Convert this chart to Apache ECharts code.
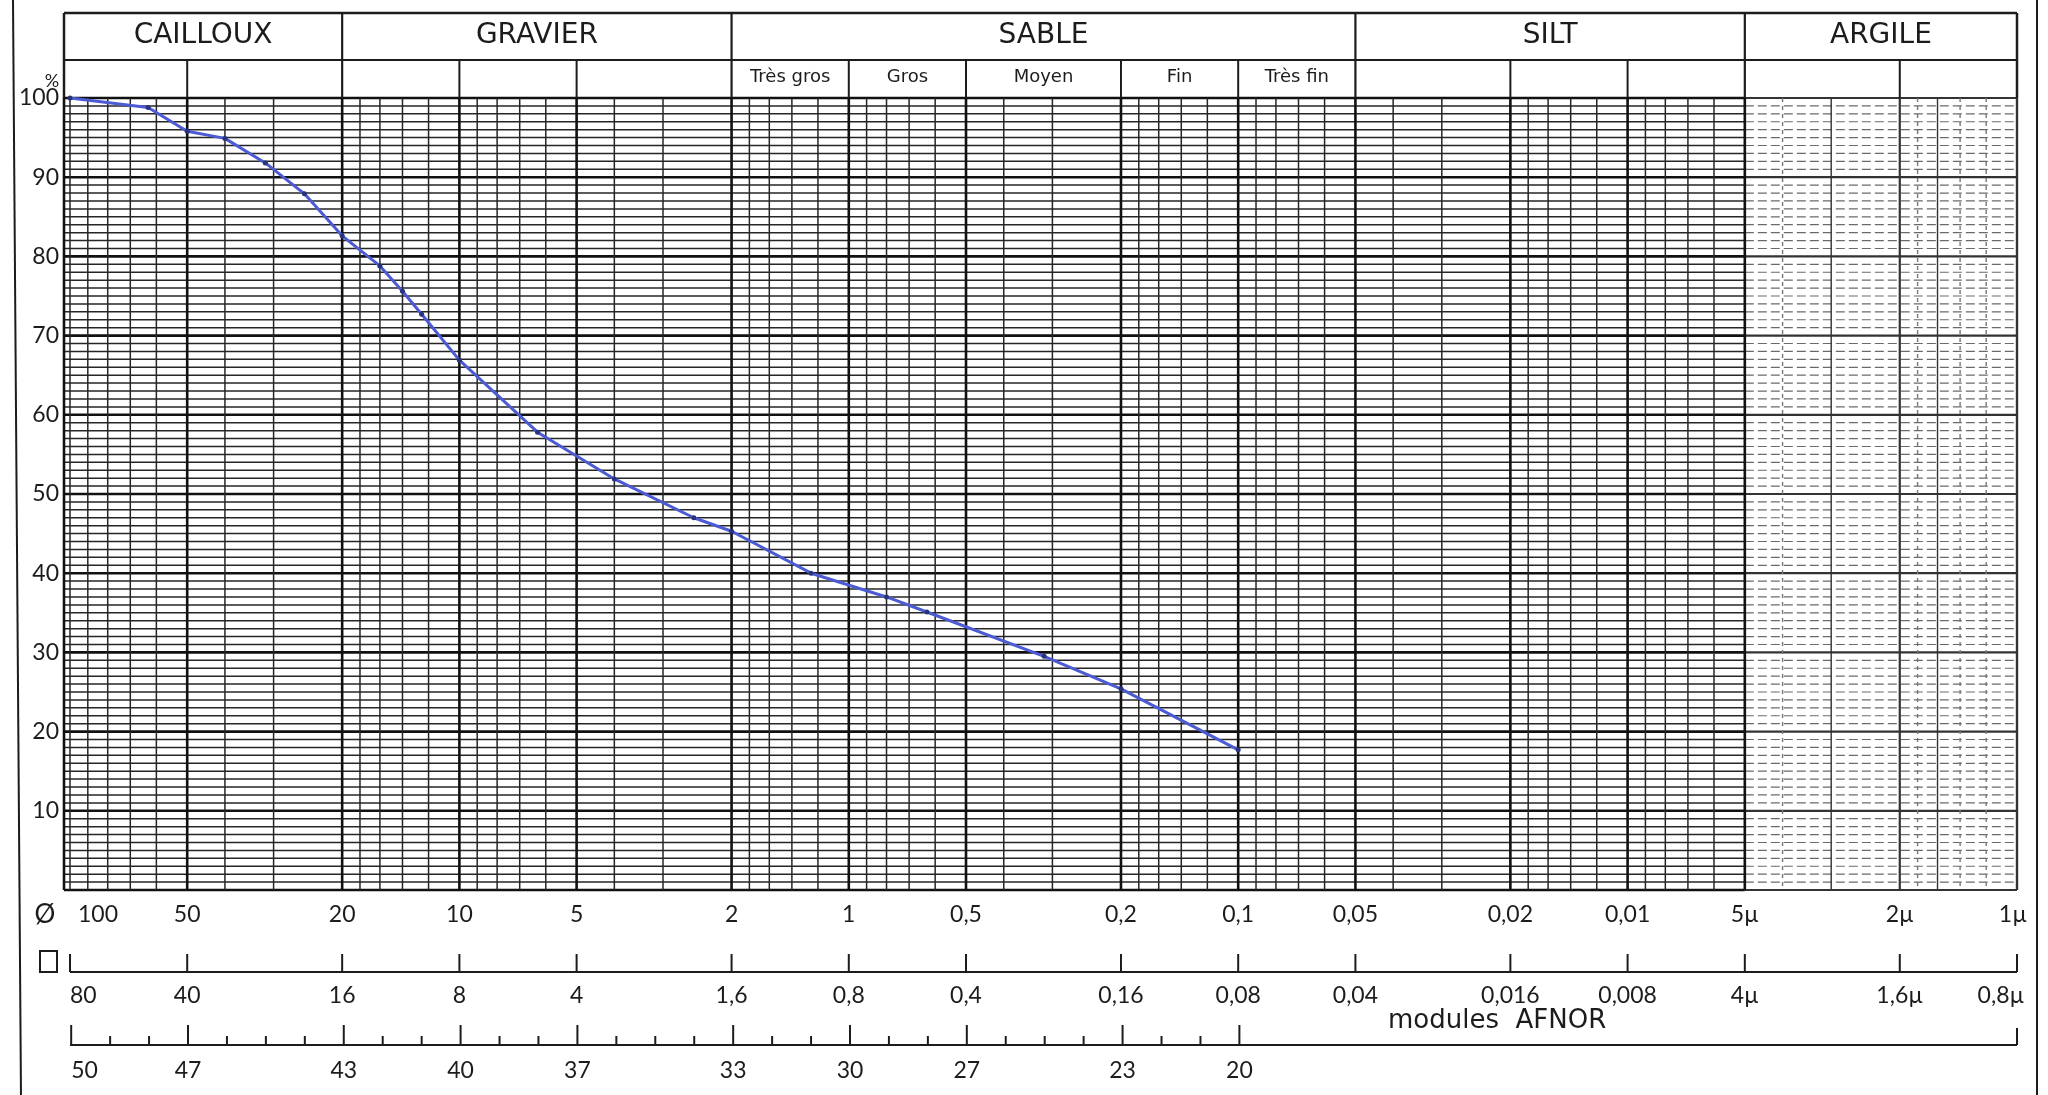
<!DOCTYPE html>
<html>
<head>
<meta charset="utf-8">
<title>Courbe granulométrique</title>
<script src="https://cdn.jsdelivr.net/npm/echarts@6/dist/echarts.min.js"></script>
<style>
  html, body { margin: 0; padding: 0; background: #fff; }
  #chart { width: 2048px; height: 1095px; }
</style>
</head>
<body>
<div id="chart"></div>
<script>
// points (diamètre Ø en mm, % de passants)
const curveDiam = [100, 63, 50, 40, 31.5, 25, 20, 16, 14, 12.5, 10, 6.3, 4, 2.5, 2, 1.25, 0.8, 0.63, 0.315, 0.2, 0.1]
const curvePass = [100, 98.8, 95.8, 94.9, 91.8, 87.9, 82.6, 78.8, 75.6, 72.7, 66.9, 57.8, 51.9, 47.0, 45.3, 40.0, 37.0, 35.1, 29.5, 25.4, 17.7]

// classes granulométriques
const classNames = ['CAILLOUX', 'GRAVIER', 'SABLE', 'SILT', 'ARGILE']
const classBounds = [103.6, 20, 2, 0.05, 0.005, 0.001]
const sandNames = ['Très gros', 'Gros', 'Moyen', 'Fin', 'Très fin']
const sandBounds = [2, 1, 0.5, 0.2, 0.1, 0.05]
const subDividers = [50, 10, 5, 1, 0.5, 0.2, 0.1, 0.02, 0.01, 0.002]

// échelles du bas
const diamTicks = [100, 50, 20, 10, 5, 2, 1, 0.5, 0.2, 0.1, 0.05, 0.02, 0.01, 0.005, 0.002, 0.001]
const diamLabels = ['100', '50', '20', '10', '5', '2', '1', '0,5', '0,2', '0,1', '0,05', '0,02', '0,01', '5µ', '2µ', '1µ']
const sieveLabels = ['80', '40', '16', '8', '4', '1,6', '0,8', '0,4', '0,16', '0,08', '0,04', '0,016', '0,008', '4µ', '1,6µ', '0,8µ']
const moduleTicks = [50, 49, 48, 47, 46, 45, 44, 43, 42, 41, 40, 39, 38, 37, 36, 35, 34, 33, 32, 31, 30, 29, 28, 27, 26, 25, 24, 23, 22, 21, 20]
const moduleLabels = [50, 47, 43, 40, 37, 33, 30, 27, 23, 20]

// lignes du papier log (mantisses par décade)
const gridMantissa = [1, 1.2, 1.4, 1.6, 1.8, 2, 3, 4, 5, 6, 7, 8, 9]
const gridDecades = [0.001, 0.01, 0.1, 1, 10]

const FONT = 'Lato, "DejaVu Sans", sans-serif'
const HEAD_FONT = '"DejaVu Sans", sans-serif'
const INK = '#1c1c1c'
const xMax = classBounds[0]
const xMin = 0.001
const fadeFrom = 0.005

const gridDiam = [100]
gridDecades.forEach(dec => gridMantissa.forEach(m => gridDiam.push(+(m * dec).toPrecision(3))))

// position Ø correspondant à un module AFNOR
function moduleDiam(m) {
  return 1.25 * Math.pow(10, (m - 31) / 10)
}

function seg(x1, y1, x2, y2, w, color, dash) {
  return {
    type: 'line',
    shape: { x1: x1, y1: y1, x2: x2, y2: y2 },
    style: { stroke: color || INK, lineWidth: w, lineDash: dash || null },
    silent: true
  }
}

function txt(text, x, y, size, align, family) {
  return {
    type: 'text',
    style: {
      text: text, x: x, y: y,
      font: size + 'px ' + (family || FONT),
      fill: INK,
      align: align || 'center', textAlign: align || 'center',
      verticalAlign: 'middle', textVerticalAlign: 'middle'
    },
    silent: true
  }
}

function xOf(api, d) { return api.coord([d, 0])[0] }
function yOf(api, p) { return api.coord([1, p])[1] }

function renderPaper(params, api) {
  const kids = []
  const xs = xOf(api, xMax), xf = xOf(api, fadeFrom), xe = xOf(api, xMin)
  const y0 = yOf(api, 0), y100 = yOf(api, 100)
  for (let p = 0; p <= 100; p++) {
    const y = yOf(api, p)
    const major = p % 10 === 0
    kids.push(seg(xs, y, xf, y, major ? 2.6 : 1.5, major ? '#111' : '#262626'))
    kids.push(seg(xf, y, xe, y, major ? 2.2 : 1.2, major ? '#333' : '#6a6a6a', major ? null : [9, 4]))
  }
  gridDiam.forEach(d => {
    const x = xOf(api, d)
    const heavy = subDividers.indexOf(d) >= 0 || classBounds.indexOf(d) >= 0
    if (d < fadeFrom) {
      const strong = heavy || d === 0.003 || d === 0.0016
      kids.push(seg(x, y100, x, y0, heavy ? 2.2 : 1.4, strong ? '#333' : '#777', strong ? null : [4, 4]))
    } else {
      kids.push(seg(x, y100, x, y0, heavy ? 2.6 : 1.5, heavy ? '#111' : '#262626'))
    }
  })
  kids.push(seg(xs, y100, xs, y0, 2.6, '#111'))
  kids.push(seg(xe, y100, xe, y0, 2.2, '#333'))
  return { type: 'group', children: kids }
}

function renderHeader(params, api) {
  const kids = []
  const top = 13, mid = 60, bot = yOf(api, 100)
  const xs = xOf(api, xMax), xe = xOf(api, xMin)
  kids.push(seg(xs, top, xe, top, 2.5))
  kids.push(seg(xs, mid, xe, mid, 2.2))
  kids.push(seg(xs, top, xs, bot, 2.5))
  kids.push(seg(xe, top, xe, bot, 2.5))
  classBounds.slice(1, -1).forEach(d => {
    const x = xOf(api, d)
    kids.push(seg(x, top, x, bot, 2.2))
  })
  subDividers.forEach(d => {
    const x = xOf(api, d)
    kids.push(seg(x, mid, x, bot, 2))
  })
  classNames.forEach((name, i) => {
    const x = (xOf(api, classBounds[i]) + xOf(api, classBounds[i + 1])) / 2
    kids.push(txt(name, x, 36, 28, 'center', HEAD_FONT))
  })
  sandNames.forEach((name, i) => {
    const x = (xOf(api, sandBounds[i]) + xOf(api, sandBounds[i + 1])) / 2
    kids.push(txt(name, x, 77, 18, 'center', HEAD_FONT))
  })
  kids.push(txt('%', 52, 81, 18))
  // bords de la feuille
  kids.push(seg(13, 0, 21, 1095, 2))
  kids.push(seg(2037, 0, 2037, 1095, 2))
  return { type: 'group', children: kids }
}

function renderScales(params, api) {
  const kids = []
  const rowDiamY = 915, sieveY = 972, sieveLabelY = 996, afnorY = 1021, moduleY = 1045, moduleLabelY = 1071
  const xs = xOf(api, 100), xe = xOf(api, xMin)

  // Ø
  kids.push(txt('Ø', 45, rowDiamY, 26))
  diamTicks.forEach((d, i) => {
    const x = xOf(api, d)
    if (i === 0) kids.push(txt(diamLabels[i], x + 8, rowDiamY, 23, 'left'))
    else if (i === diamTicks.length - 1) kids.push(txt(diamLabels[i], x - 4, rowDiamY, 23))
    else kids.push(txt(diamLabels[i], x, rowDiamY, 23))
  })

  // tamis carrés
  kids.push({
    type: 'rect', shape: { x: 40, y: 951, width: 17, height: 21 },
    style: { fill: 'none', stroke: INK, lineWidth: 2 }, silent: true
  })
  kids.push(seg(xs, sieveY, xe, sieveY, 2.2))
  diamTicks.forEach((d, i) => {
    const x = xOf(api, d)
    kids.push(seg(x, sieveY, x, sieveY - 18, 2))
    if (i === 0) kids.push(txt(sieveLabels[i], x, sieveLabelY, 23, 'left'))
    else if (i === diamTicks.length - 1) kids.push(txt(sieveLabels[i], x - 16, sieveLabelY, 23))
    else kids.push(txt(sieveLabels[i], x, sieveLabelY, 23))
  })

  // modules AFNOR
  kids.push(txt('modules  AFNOR', 1388, afnorY, 26, 'left', HEAD_FONT))
  kids.push(seg(xs, moduleY, xe, moduleY, 2.2))
  kids.push(seg(xe, moduleY, xe, moduleY - 17, 2))
  moduleTicks.forEach(m => {
    const x = xOf(api, moduleDiam(m))
    const major = moduleLabels.indexOf(m) >= 0
    kids.push(seg(x, moduleY, x, moduleY - (major ? 20 : 9), 2))
  })
  moduleLabels.forEach((m, i) => {
    const x = xOf(api, moduleDiam(m))
    kids.push(txt(String(m), x, moduleLabelY, 23, i === 0 ? 'left' : 'center'))
  })
  return { type: 'group', children: kids }
}

const chart = echarts.init(document.getElementById('chart'))
const option = {
  animation: false,
  backgroundColor: '#ffffff',
  grid: { left: 64, right: 31, top: 98, bottom: 205, containLabel: false },
  xAxis: {
    type: 'log',
    inverse: true,
    min: xMin,
    max: xMax,
    axisLine: { show: false },
    axisTick: { show: false },
    axisLabel: { show: false },
    splitLine: { show: false }
  },
  yAxis: {
    type: 'value',
    min: 0,
    max: 100,
    interval: 10,
    axisLine: { show: false },
    axisTick: { show: false },
    splitLine: { show: false },
    axisLabel: {
      margin: 5,
      fontSize: 23,
      fontFamily: FONT,
      color: INK,
      formatter: v => (v === 0 ? '' : String(v))
    }
  },
  series: [
    { type: 'custom', renderItem: renderPaper, data: [[1, 50]], clip: false, silent: true, z: 1 },
    { type: 'custom', renderItem: renderHeader, data: [[1, 50]], clip: false, silent: true, z: 2 },
    { type: 'custom', renderItem: renderScales, data: [[1, 50]], clip: false, silent: true, z: 2 },
    {
      type: 'line',
      name: 'passants',
      data: curveDiam.map((d, i) => [d, curvePass[i]]),
      smooth: false,
      symbol: 'circle',
      symbolSize: 5,
      lineStyle: { color: '#4c5bd4', width: 3 },
      itemStyle: { color: '#28337c' },
      silent: true,
      z: 10
    }
  ]
}
chart.setOption(option)
</script>
</body>
</html>
